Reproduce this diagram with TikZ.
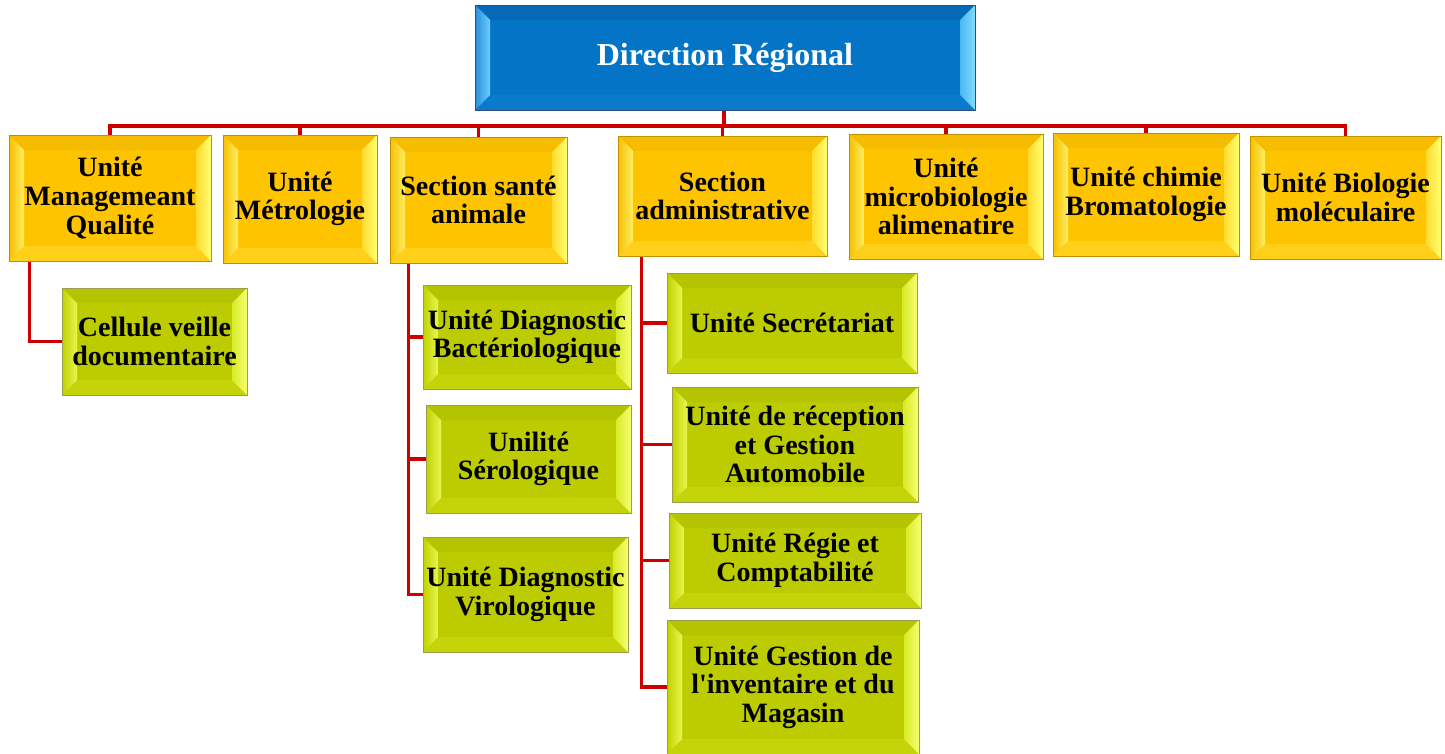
\documentclass[tikz,border=0pt]{standalone}
\usepackage{fontspec}
\setmainfont{Liberation Serif}
\usetikzlibrary{calc,backgrounds}
\definecolor{ylface}{HTML}{FFC400}
\definecolor{yltop}{HTML}{F5BC00}
\definecolor{ylbot}{HTML}{FFCF1A}
\definecolor{ylleftA}{HTML}{F5C000}
\definecolor{ylleftB}{HTML}{FFEE60}
\definecolor{ylrightA}{HTML}{FFDC30}
\definecolor{ylrightB}{HTML}{FFFF70}
\definecolor{ylborder}{HTML}{C09000}
\definecolor{grface}{HTML}{BCCC00}
\definecolor{grtop}{HTML}{B4C400}
\definecolor{grbot}{HTML}{C4D408}
\definecolor{grleftA}{HTML}{C0D200}
\definecolor{grleftB}{HTML}{E8F550}
\definecolor{grrightA}{HTML}{D8EA28}
\definecolor{grrightB}{HTML}{F6FF70}
\definecolor{grborder}{HTML}{9A9E50}
\definecolor{blface}{HTML}{0474C6}
\definecolor{bltop}{HTML}{0669B8}
\definecolor{blbot}{HTML}{0A7ACC}
\definecolor{blleftA}{HTML}{2A8FD8}
\definecolor{blleftB}{HTML}{6ACFFF}
\definecolor{blrightA}{HTML}{4AB8F0}
\definecolor{blrightB}{HTML}{80DCFF}
\definecolor{blborder}{HTML}{2F4F80}
\definecolor{linkred}{HTML}{CC0000}
\newcommand{\bxfont}{\bfseries\fontsize{28}{28.6}\selectfont}
\newcommand{\ttlfont}{\bfseries\fontsize{32}{36}\selectfont}
\tikzset{
  bevbox/.style={rectangle, fill=#1face, draw=#1border, line width=0.8pt,
    inner sep=0pt, align=center, font=\bxfont,
    path picture={
      \coordinate (pNW) at (path picture bounding box.north west);
      \coordinate (pNE) at (path picture bounding box.north east);
      \coordinate (pSW) at (path picture bounding box.south west);
      \coordinate (pSE) at (path picture bounding box.south east);
      \coordinate (iNW) at ($(pNW)+(15pt,-15pt)$);
      \coordinate (iNE) at ($(pNE)+(-15pt,-15pt)$);
      \coordinate (iSW) at ($(pSW)+(15pt,15pt)$);
      \coordinate (iSE) at ($(pSE)+(-15pt,15pt)$);
      \fill[#1top] (pNW) -- (pNE) -- (iNE) -- (iNW) -- cycle;
      \fill[#1bot] (pSW) -- (pSE) -- (iSE) -- (iSW) -- cycle;
      \shade[left color=#1leftA, right color=#1leftB] (pNW) -- (iNW) -- (iSW) -- (pSW) -- cycle;
      \shade[left color=#1rightA, right color=#1rightB] (iNE) -- (pNE) -- (pSE) -- (iSE) -- cycle;
    }},
  ybox/.style={bevbox=yl},
  gbox/.style={bevbox=gr},
  bbox/.style={bevbox=bl, text=white, font=\ttlfont},
  link/.style={draw=linkred, line width=3.2pt}
}
\begin{document}
\begin{tikzpicture}[x=1pt,y=-1pt]
\useasboundingbox (0,0) rectangle (1445,753);
% top
\node[bbox, minimum width=500pt, minimum height=105pt] (top) at (725,57.5) {Direction Régional};
% level 1
\node[ybox, minimum width=202pt, minimum height=126pt] (b1) at (110,198) {Unité\\Managemeant\\Qualité};
\node[ybox, minimum width=154pt, minimum height=128pt] (b2) at (300,199) {Unité\\Métrologie};
\node[ybox, minimum width=177pt, minimum height=126pt] (b3) at (478.5,200) {Section santé\\animale};
\node[ybox, minimum width=209pt, minimum height=120pt] (b4) at (722.5,196) {Section\\administrative};
\node[ybox, minimum width=194pt, minimum height=125pt] (b5) at (946,196.5) {Unité\\microbiologie\\alimenatire};
\node[ybox, minimum width=186pt, minimum height=123pt] (b6) at (1146,194.5) {Unité chimie\\Bromatologie};
\node[ybox, minimum width=191pt, minimum height=123pt] (b7) at (1345.5,197.5) {Unité Biologie\\moléculaire};
% level 2
\node[gbox, minimum width=185pt, minimum height=107pt] (c1) at (154.5,341.5) {Cellule veille\\documentaire};
\node[gbox, minimum width=208pt, minimum height=104pt] (s1) at (527,337) {Unité Diagnostic\\Bactériologique};
\node[gbox, minimum width=205pt, minimum height=108pt] (s2) at (528.5,459) {Unilité\\Sérologique};
\node[gbox, minimum width=205pt, minimum height=115pt] (s3) at (525.5,594.5) {Unité Diagnostic\\Virologique};
\node[gbox, minimum width=250pt, minimum height=100pt] (a1) at (792,323) {Unité Secrétariat};
\node[gbox, minimum width=246pt, minimum height=115pt] (a2) at (795,444.5) {Unité de réception\\et Gestion\\Automobile};
\node[gbox, minimum width=252pt, minimum height=95pt] (a3) at (795,560.5) {Unité Régie et\\Comptabilité};
\node[gbox, minimum width=252pt, minimum height=134pt] (a4) at (793,687) {Unité Gestion de\\l\textquotesingle inventaire et du\\Magasin};
\begin{scope}[on background layer]
\fill[white] (0,0) rectangle (1445,753);
\coordinate (bus) at (724,126);
\draw[link] (top.south -| bus) -- (bus);
\foreach \b in {b1,b2,b3,b4,b5,b6,b7} {
  \draw[link] (bus) -| (\b.north);
}
\coordinate (v1) at ($(b1.south west)+(21pt,0pt)$);
\draw[link] (v1) |- (c1.west);
\coordinate (v3) at ($(b3.south west)+(19pt,0pt)$);
\draw[link] (v3) |- (s3.west);
\draw[link] (v3) |- (s1.west);
\draw[link] (v3) |- (s2.west);
\coordinate (v4) at ($(b4.south west)+(24pt,0pt)$);
\draw[link] (v4) |- (a4.west);
\draw[link] (v4) |- (a1.west);
\draw[link] (v4) |- (a2.west);
\draw[link] (v4) |- (a3.west);
\end{scope}
\end{tikzpicture}
\end{document}
